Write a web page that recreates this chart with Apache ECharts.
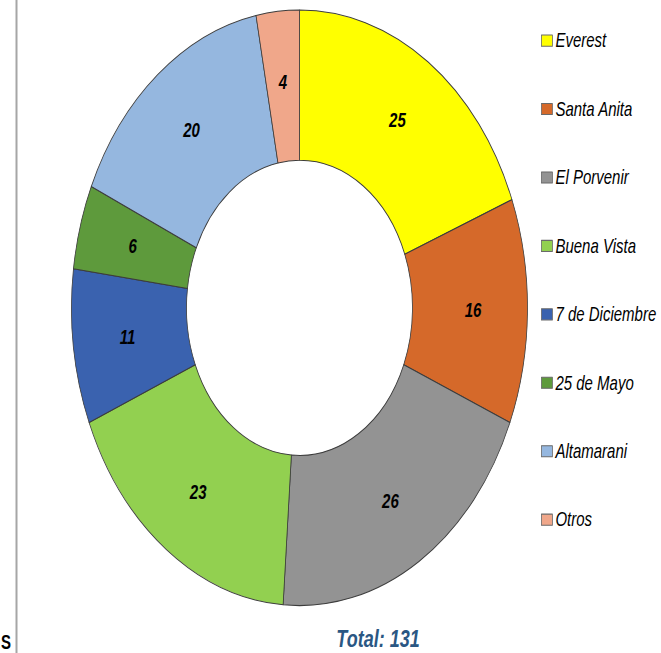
<!DOCTYPE html>
<html><head><meta charset="utf-8">
<script src="https://cdn.jsdelivr.net/npm/echarts@6/dist/echarts.min.js"></script>
<style>
html,body{margin:0;padding:0;background:#fff;overflow:hidden;}
#wrap{width:661px;height:653px;overflow:hidden;position:relative;}
#c{width:661px;height:500px;transform:scaleY(1.306);transform-origin:0 0;position:absolute;left:0;top:0;}
</style></head>
<body><div id="wrap"><div id="c"></div></div>
<script>
const categories = ['Everest','Santa Anita','El Porvenir','Buena Vista','7 de Diciembre','25 de Mayo','Altamarani','Otros'];
const values = [25,16,26,23,11,6,20,4];
const colors = ['#FFFF00','#D5692A','#939393','#92D050','#3A62AF','#5E9A3C','#95B7DF','#F0A78A'];
const totalLabel = 'Total: 131';

const chart = echarts.init(document.getElementById('c'), null, {renderer:'svg'});
chart.setOption({
  animation:false,
  color: colors,
  legend:{
    orient:'vertical', left:536, top:18.6,
    itemWidth:11, itemHeight:8.5, itemGap:37.4,
    icon:'rect',
    itemStyle:{borderColor:'#6a6a6a', borderWidth:0.8},
    textStyle:{fontFamily:'Liberation Sans, Arial, sans-serif', fontStyle:'italic', fontSize:15, color:'#000', lineHeight:14, padding:[0,0,0,-2]},
    data: categories
  },
  graphic:[
    {type:'line', shape:{x1:16.5,y1:0,x2:16.5,y2:500}, style:{stroke:'#a6a6a6', lineWidth:2}},
    {type:'text', left:1, top:484, style:{text:'S', font:'bold 15px Liberation Sans, Arial, sans-serif', fill:'#000'}},
    {type:'text', x:378, y:489, style:{text: totalLabel, font:'italic bold 18px Liberation Sans, Arial, sans-serif', fill:'#2A5783', align:'center', verticalAlign:'middle'}}
  ],
  series:[{
    type:'pie',
    center:[299.5,235.7],
    radius:[113,228],
    startAngle:90,
    clockwise:true,
    avoidLabelOverlap:false,
    itemStyle:{borderColor:'#3c3c3c', borderWidth:0.8},
    label:{show:true, position:'inside', formatter:'{c}', color:'#000', fontStyle:'italic', fontWeight:'bold', fontSize:15, fontFamily:'Liberation Sans, Arial, sans-serif'},
    labelLine:{show:false},
    emphasis:{disabled:true},
    data: categories.map((n,i)=>({name:n, value:values[i]}))
  }]
});
</script></body></html>
